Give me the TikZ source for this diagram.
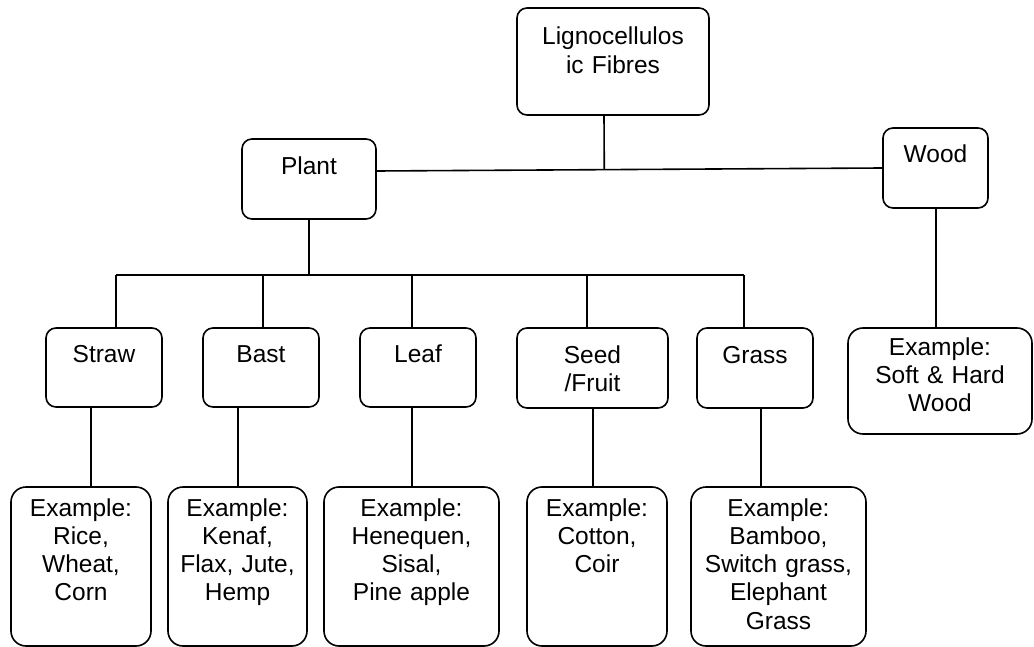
\documentclass[tikz,border=0pt]{standalone}
\usepackage{fontspec}
\setmainfont{Liberation Sans}
\usepackage{tikz}
\usetikzlibrary{calc}
\tikzset{
  cat/.style={draw, line width=1.6pt, rounded corners=10pt, align=center, inner sep=0pt,
    font=\fontsize{24.5}{28.3}\selectfont},
  ex/.style={cat, rounded corners=15pt},
  link/.style={line width=1.6pt},
  sz/.style n args={3}{text width=#1pt, text height=#2pt, text depth=#3pt}
}

\begin{document}
\begin{tikzpicture}[x=1pt,y=-1pt]
\useasboundingbox (0,0) rectangle (1034,647);

% top level
\node[cat, sz={192}{37}{70}] (lig) at (613,61.5) {Lignocellulos\\ic Fibres};
\node[cat, sz={134}{36}{44}] (plant) at (309,179) {Plant};
\node[cat, sz={105}{35}{45}] (wood) at (935.5,168) {Wood};

% plant fibre groups
\node[cat, sz={116}{34}{45}] (straw) at (104,367.5) {Straw};
\node[cat, sz={116}{34}{45}] (bast) at (261,367.5) {Bast};
\node[cat, sz={116}{34}{45}] (leaf) at (418,367.5) {Leaf};
\node[cat, sz={151}{35}{45}] (seed) at (592.5,368) {Seed\\/Fruit};
\node[cat, sz={116}{35}{45}] (grass) at (755,368) {Grass};

% examples
\node[ex, sz={140}{29}{130}] (exstraw) at (81,566.5) {Example:\\Rice,\\Wheat,\\Corn};
\node[ex, sz={139}{29}{130}] (exbast) at (237.5,566.5) {Example:\\Kenaf,\\Flax, Jute,\\Hemp};
\node[ex, sz={175}{29}{130}] (exleaf) at (411.5,566.5) {Example:\\Henequen,\\Sisal,\\Pine apple};
\node[ex, sz={140}{29}{130}] (exseed) at (597,566.5) {Example:\\Cotton,\\Coir};
\node[ex, sz={175}{29}{130}] (exgrass) at (778.5,566.5) {Example:\\Bamboo,\\Switch grass,\\Elephant\\Grass};
\node[ex, sz={184}{27}{79}] (exwood) at (940,381) {Example:\\Soft \& Hard\\Wood};

% links
\coordinate (pj) at ($(plant.east)+(0,-8)$);
\coordinate (ls) at ($(lig.south)+(-9,0)$);
\draw[link] (pj) -- (wood.west);
\draw[link] (ls) -- ($(pj)!(ls)!(wood.west)$);

\coordinate (bus) at ($(plant.south)+(0,55)$);
\draw[link] (plant.south) -- (plant.south |- bus);
\draw[link] ($(straw.north |- bus)+(12,0)$) -- ($(grass.north |- bus)+(-11,0)$);
\foreach \n/\dx in {straw/12,bast/2,leaf/-6,seed/-5.5,grass/-11}
  \draw[link] ($(\n.north)+(\dx,0)$) -- ($(\n.north |- bus)+(\dx,0)$);

\foreach \a/\b/\dx in {straw/exstraw/10,bast/exbast/0.5,leaf/exleaf/0.5,seed/exseed/-4,grass/exgrass/-17.5,wood/exwood/-4}
  \draw[link] ($(\b.north)+(\dx,0)$) -- ($(\b.north |- \a.south)+(\dx,0)$);
\end{tikzpicture}
\end{document}
